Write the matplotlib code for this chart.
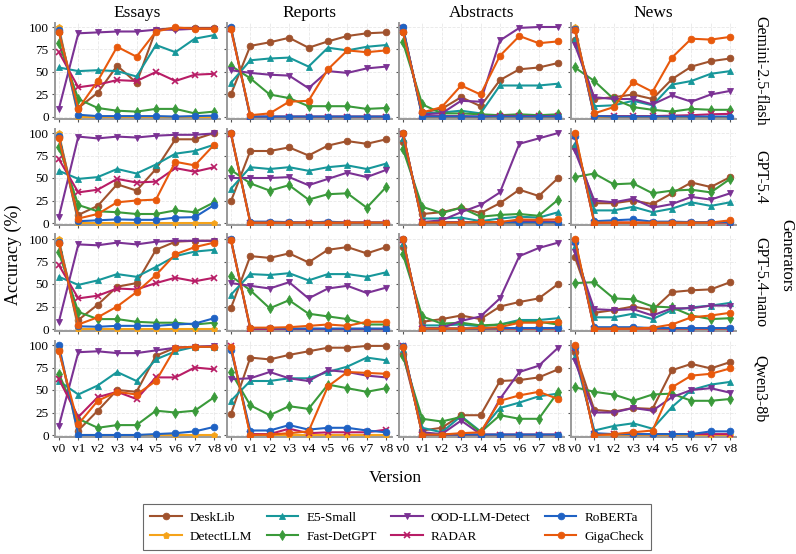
import matplotlib
matplotlib.use("Agg")
import matplotlib.pyplot as plt

plt.rcParams['font.family'] = ['Liberation Serif', 'DejaVu Serif']

versions = ["v0", "v1", "v2", "v3", "v4", "v5", "v6", "v7", "v8"]
domains = ["Essays", "Reports", "Abstracts", "News"]
generators = ["Gemini-2.5-flash", "GPT-5.4", "GPT-5.4-nano", "Qwen3-8b"]
detectors = ["DeskLib", "DetectLLM", "E5-Small", "Fast-DetGPT",
             "OOD-LLM-Detect", "RADAR", "RoBERTa", "GigaCheck"]

# accuracy per detector: [generator][domain] -> v0..v8
desklib = [
    [[95, 10, 27, 57, 38, 97, 99, 99, 99], [25, 79, 83, 88, 77, 84, 90, 93, 94],
     [95, 5, 9, 22, 12, 41, 53, 55, 60], [85, 20, 22, 25, 20, 42, 56, 62, 65]],
    [[96, 9, 19, 43, 36, 60, 93, 93, 100], [24, 80, 80, 84, 75, 86, 91, 88, 93],
     [90, 10, 12, 17, 11, 22, 37, 30, 50], [85, 22, 22, 25, 21, 33, 45, 40, 51]],
    [[96, 10, 27, 47, 51, 88, 97, 98, 98], [23, 81, 79, 84, 74, 88, 91, 84, 91],
     [91, 8, 11, 15, 11, 25, 30, 34, 50], [80, 18, 21, 25, 21, 41, 43, 44, 52]],
    [[95, 5, 27, 50, 48, 88, 97, 98, 98], [23, 86, 84, 89, 93, 97, 97, 99, 99],
     [90, 5, 8, 22, 22, 60, 61, 64, 73], [92, 28, 26, 30, 29, 72, 79, 74, 81]],
]
detectllm = [
    [[100, 0, 0, 0, 0, 0, 0, 0, 0]] * 4,
    [[100, 0, 0, 0, 0, 0, 0, 0, 0]] * 4,
    [[100, 0, 0, 0, 0, 0, 0, 0, 0]] * 4,
    [[98, 0, 0, 0, 0, 0, 0, 0, 0]] * 4,
]
e5_small = [
    [[55, 51, 52, 51, 45, 80, 72, 87, 91], [38, 63, 65, 66, 56, 77, 74, 78, 80],
     [96, 4, 5, 7, 4, 35, 35, 35, 37], [87, 12, 13, 18, 13, 36, 40, 48, 51]],
    [[58, 49, 51, 60, 55, 65, 77, 80, 87], [38, 62, 60, 62, 58, 62, 64, 60, 66],
     [95, 5, 5, 6, 2, 5, 7, 6, 12], [88, 14, 14, 18, 12, 16, 23, 19, 23]],
    [[58, 49, 54, 61, 58, 69, 81, 86, 88], [38, 61, 60, 62, 54, 61, 61, 58, 63],
     [95, 4, 4, 5, 3, 5, 10, 10, 12], [92, 13, 13, 17, 11, 21, 24, 26, 29]],
    [[60, 45, 55, 70, 60, 84, 93, 98, 98], [38, 60, 60, 63, 63, 70, 76, 86, 83],
     [96, 8, 3, 21, 4, 30, 36, 43, 46], [88, 5, 10, 13, 7, 31, 50, 56, 59]],
]
fast_detgpt = [
    [[82, 20, 10, 7, 6, 9, 9, 4, 6], [57, 43, 25, 21, 12, 12, 12, 9, 10],
     [83, 14, 4, 4, 3, 2, 3, 2, 3], [55, 40, 20, 11, 8, 6, 9, 8, 8]],
    [[85, 20, 13, 12, 10, 10, 14, 12, 23], [59, 44, 36, 42, 26, 32, 33, 17, 40],
     [82, 18, 11, 17, 7, 9, 10, 8, 26], [51, 55, 43, 44, 33, 36, 37, 34, 49]],
    [[85, 19, 11, 11, 8, 7, 7, 5, 7], [59, 43, 23, 32, 17, 14, 11, 5, 5],
     [83, 14, 6, 7, 4, 5, 8, 8, 5], [51, 52, 34, 33, 25, 24, 15, 11, 12]],
    [[68, 18, 8, 11, 11, 27, 25, 27, 42], [70, 33, 22, 32, 29, 56, 52, 48, 52],
     [88, 18, 15, 20, 3, 22, 18, 18, 48], [53, 48, 45, 38, 45, 46, 38, 38, 40]],
]
ood_llm_detect = [
    [[9, 93, 94, 95, 95, 97, 97, 98, 98], [52, 49, 47, 46, 32, 51, 49, 54, 56],
     [97, 3, 4, 18, 17, 85, 99, 100, 100], [80, 22, 20, 20, 14, 24, 17, 25, 29]],
    [[7, 96, 94, 96, 95, 97, 98, 98, 99.5], [50, 50, 50, 51, 42, 49, 56, 51, 59],
     [99, 1, 3, 12, 20, 34, 88, 94, 100], [80, 25, 23, 27, 17, 21, 29, 26, 33]],
    [[8, 94, 93, 96, 94, 97, 98, 98, 98], [51, 48, 45, 52, 34, 45, 48, 40, 46],
     [99, 1, 1, 9, 14, 34, 81, 90, 96], [85, 22, 21, 22, 15, 23, 23, 26, 26]],
    [[10, 92, 93, 91, 91, 94, 97, 98, 99], [62, 63, 70, 63, 60, 72, 70, 66, 64],
     [95, 3, 1, 16, 1, 40, 70, 77, 97], [82, 25, 25, 30, 27, 42, 50, 52, 47]],
]
radar = [
    [[72, 33, 36, 41, 40, 50, 40, 47, 48], [98, 0.5, 0.5, 0.5, 0.5, 0.5, 0.5, 0.5, 0.5],
     [99, 1, 1, 1, 0.5, 1.5, 1, 1, 1], [97, 1, 1, 1, 1, 1.5, 2, 3, 3.5]],
    [[71, 34, 37, 49, 45, 46, 61, 57, 62], [99, 0.5, 0.5, 0.5, 0.5, 0.5, 0.5, 0.5, 0.5],
     [99, 1, 1, 1, 1, 1, 2, 2, 1.5], [97, 0.5, 0.5, 0.5, 0.5, 0.5, 0.5, 0.5, 0.5]],
    [[71, 34, 37, 45, 44, 51, 57, 53, 57], [99, 0, 0, 0, 0, 0, 0, 0, 0],
     [99, 0.5, 0.5, 0.5, 0.5, 0.5, 0.5, 0.5, 0.5], [97, 0.5, 0.5, 0.5, 0.5, 0.5, 0.5, 0.5, 0.5]],
    [[62, 20, 42, 48, 40, 64, 64, 75, 73], [99, 1, 1, 7, 2, 3, 3, 3, 6],
     [99, 0.5, 0.5, 0.5, 0.5, 0.5, 0.5, 0.5, 0.5], [97, 1, 1, 1, 1, 1, 1, 1, 1]],
]
roberta = [
    [[97, 2.5, 1, 1, 1, 1, 0.5, 1, 1.5], [100, 0.5, 0.5, 0.5, 0.5, 0.5, 0.5, 0.5, 0.5],
     [100, 0.5, 0.5, 0.5, 0.5, 0.5, 0.5, 0.5, 0.5], [98, 1, 0.5, 0.5, 0.5, 0.5, 0.5, 0.5, 0.5]],
    [[97, 2, 3, 4, 3.5, 3.5, 6, 6.5, 20], [100, 1.5, 1.5, 1, 0.5, 1.5, 0.5, 0.5, 0.5],
     [100, 0.5, 0.5, 0.5, 0.5, 0.5, 0.5, 0.5, 0.5], [97, 2, 3, 4, 1.5, 1.5, 1, 1, 1]],
    [[97, 3, 2.5, 3.5, 3.5, 3.5, 5, 6, 12], [100, 1, 1, 0.5, 0.5, 0.5, 0.5, 0.5, 0.5],
     [100, 0.5, 0.5, 0.5, 0.5, 1, 1, 1, 1], [97, 2, 2, 2, 1, 1, 1, 1, 1]],
    [[100, 0, 0, 0, 0, 1, 2, 4, 9], [95, 5, 5, 11, 6, 8, 8, 5, 3],
     [99, 0.5, 0.5, 0.5, 0.5, 0.5, 0.5, 0.5, 0.5], [98, 2, 1, 1, 1, 1, 1, 4, 4]],
]
gigacheck = [
    [[94, 9, 40, 78, 67, 95, 99.5, 98, 98], [98, 2, 4, 17, 18, 53, 74, 72, 74],
     [95, 5, 11, 35, 25, 68, 90, 82, 84], [97, 4, 11, 39, 28, 66, 87, 86, 89]],
    [[94, 5, 10, 23, 25, 26, 68, 64, 87], [100, 0.5, 0.5, 0.5, 0.5, 0.5, 0.5, 0.5, 0.5],
     [100, 0.5, 0.5, 0.5, 1, 1, 4, 3.5, 4], [100, 0.5, 0.5, 0.5, 0.5, 0.5, 0.5, 0.5, 3]],
    [[95, 5, 13, 25, 41, 60, 83, 91, 96], [99, 1.5, 1.5, 2, 3.5, 5, 3.5, 8, 8],
     [100, 0.5, 0.5, 0.5, 1, 2, 7, 7, 8], [100, 0.5, 0.5, 0.5, 1.5, 5, 13, 15, 18]],
    [[93, 12, 38, 48, 45, 60, 97, 98, 98], [98, 0, 0.5, 2, 4, 54, 70, 69, 68],
     [98, 0.5, 0.5, 2, 3, 38, 44, 48, 40], [100, 0, 1, 3, 5, 53, 66, 68, 74]],
]

series = [desklib, detectllm, e5_small, fast_detgpt, ood_llm_detect, radar, roberta, gigacheck]
colors = ['#a0522d', '#f5a31a', '#17979a', '#3a9a3a', '#7b3294', '#b81d66', '#1f62c4', '#e8590c']
markers = ['o', 'p', '^', 'd', 'v', 'x', 'o', 'o']

W, H = 796, 554
fig = plt.figure(figsize=(W / 100, H / 100), dpi=100)
x = list(range(len(versions)))

handles = []
for r in range(4):
    for c in range(4):
        left = 55 + 172 * c
        top = 22.5 + 106 * r
        ax = fig.add_axes([left / W, 1 - (top + 96.3) / H, 165 / W, 96.3 / H])
        for k, s in enumerate(series):
            ln, = ax.plot(x, s[r][c], color=colors[k], marker=markers[k], lw=1.5,
                          ms=4.8, mew=1.2 if markers[k] == 'x' else 0.6,
                          label=detectors[k], zorder=3 + k * 0.1)
            if r == 0 and c == 0:
                handles.append(ln)
        ax.set_xlim(-0.2, 8.3)
        ax.set_ylim(-2, 105)
        ax.set_xticks(x)
        ax.set_yticks([0, 25, 50, 75, 100])
        ax.grid(True, color='#e8e8e8', lw=0.6, ls='--')
        ax.set_axisbelow(True)
        for sp in ['top', 'right']:
            ax.spines[sp].set_visible(False)
        for sp in ['left', 'bottom']:
            ax.spines[sp].set_color('#9a9a9a')
            ax.spines[sp].set_linewidth(1.4)
        ax.tick_params(length=2.5, width=0.8, color='#555555', labelsize=9.5, pad=2)
        if r == 3:
            ax.set_xticklabels(versions)
        else:
            ax.set_xticklabels([])
        if c != 0:
            ax.set_yticklabels([])
        if r == 0:
            ax.set_title(domains[c], fontsize=12.5, pad=4)
    fig.text(760 / W, 1 - (22.5 + 106 * r + 48) / H, generators[r], rotation=270,
             ha='center', va='center', fontsize=11.5)

fig.text(786 / W, 1 - 255 / H, "Generators", rotation=270, ha='center', va='center', fontsize=12)
fig.text(13 / W, 1 - 255 / H, "Accuracy (%)", rotation=90, ha='center', va='center', fontsize=13)
fig.text(395 / W, 1 - 478 / H, "Version", ha='center', va='center', fontsize=12.5)

leg = fig.legend(handles, detectors, loc='center', bbox_to_anchor=(397 / W, 1 - 527 / H),
                 ncol=4, fontsize=9.5, frameon=True, fancybox=False, edgecolor='#444444',
                 handlelength=2.4, columnspacing=1.1, handletextpad=0.6, borderpad=0.55,
                 labelspacing=0.5)
leg.get_frame().set_linewidth(0.8)

fig.savefig("out.png", dpi=100)
